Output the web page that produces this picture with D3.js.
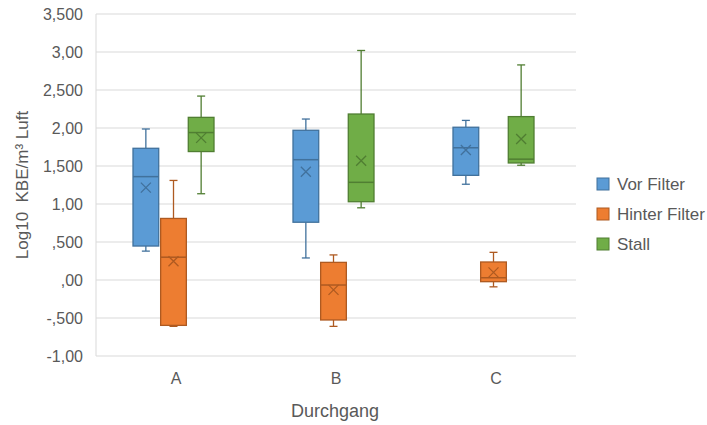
<!DOCTYPE html>
<html>
<head>
<meta charset="utf-8">
<script src="https://cdn.jsdelivr.net/npm/d3@7"></script>
<style>
  body { margin: 0; background: #fff; }
  text { font-family: "Liberation Sans", Arial, sans-serif; fill: #595959; }
</style>
</head>
<body>
<svg width="707" height="425"></svg>
<script>
// data (Log10 KBE/m3)
const categories = ['A', 'B', 'C'];
const seriesNames = ['Vor Filter', 'Hinter Filter', 'Stall'];
const fills = ['#5B9BD5', '#ED7D31', '#70AD47'];
const strokes = ['#41719C', '#AE5A21', '#507E32'];

// per series: [A, B, C]
const whiskerLow = [[0.38, 0.29, 1.26], [-0.61, -0.61, -0.09], [1.135, 0.95, 1.51]];
const q1 = [[0.447, 0.76, 1.377], [-0.597, -0.526, -0.022], [1.69, 1.03, 1.54]];
const median = [[1.36, 1.583, 1.74], [0.30, -0.066, 0.03], [1.94, 1.285, 1.59]];
const q3 = [[1.733, 1.97, 2.01], [0.81, 0.232, 0.237], [2.14, 2.184, 2.15]];
const whiskerHigh = [[1.987, 2.118, 2.10], [1.31, 0.33, 0.364], [2.42, 3.02, 2.83]];
const mean = [[1.215, 1.425, 1.71], [0.246, -0.13, 0.10], [1.87, 1.57, 1.855]];

const yTicks = [3.5, 3, 2.5, 2, 1.5, 1, 0.5, 0, -0.5, -1];
const yTickLabels = ['3,500', '3,00', '2,500', '2,00', '1,500', '1,00', ',500', ',00', '-,500', '-1,00'];

const svg = d3.select('svg');

const y = d3.scaleLinear().domain([-1, 3.5]).range([356, 14]);
const x0 = d3.scaleBand().domain(categories).range([96, 576]);
const x1 = d3.scaleBand().domain(seriesNames).range([-43, 38]).paddingInner(0.07);

// gridlines
svg.append('g').selectAll('line')
  .data(yTicks).enter().append('line')
    .attr('x1', 96).attr('x2', 576)
    .attr('y1', d => y(d)).attr('y2', d => y(d))
    .attr('stroke', '#d9d9d9').attr('stroke-width', 1);

svg.append('line')
  .attr('x1', 96).attr('x2', 96).attr('y1', y(3.5)).attr('y2', y(-1))
  .attr('stroke', '#d9d9d9');

// y tick labels
svg.append('g').selectAll('text')
  .data(yTicks).enter().append('text')
    .attr('x', 83).attr('y', d => y(d) + 6)
    .attr('text-anchor', 'end')
    .style('font-size', '16px')
    .text((d, i) => yTickLabels[i]);

// x labels
svg.append('g').selectAll('text')
  .data(categories).enter().append('text')
    .attr('x', d => x0(d) + x0.bandwidth() / 2)
    .attr('y', 384)
    .attr('text-anchor', 'middle')
    .style('font-size', '16px')
    .text(d => d);

// axis titles
svg.append('text')
  .attr('x', 335).attr('y', 417)
  .attr('text-anchor', 'middle')
  .style('font-size', '18px')
  .text('Durchgang');

svg.append('text')
  .attr('transform', 'translate(28,185) rotate(-90)')
  .attr('text-anchor', 'middle')
  .style('font-size', '17px')
  .style('white-space', 'pre')
  .text('Log10  KBE/m³ Luft');

// boxes
const boxes = [];
seriesNames.forEach((s, si) => {
  categories.forEach((c, ci) => {
    boxes.push({
      s: s, si: si, c: c,
      lo: whiskerLow[si][ci], q1: q1[si][ci], med: median[si][ci],
      q3: q3[si][ci], hi: whiskerHigh[si][ci], mean: mean[si][ci]
    });
  });
});

const bw = x1.bandwidth();
const g = svg.append('g').selectAll('g')
  .data(boxes).enter().append('g')
    .attr('transform', d => 'translate(' + (x0(d.c) + x0.bandwidth() / 2 + x1(d.s)) + ',0)');

// whiskers
g.append('line')
  .attr('x1', bw / 2).attr('x2', bw / 2)
  .attr('y1', d => y(d.hi)).attr('y2', d => y(d.q3))
  .attr('stroke', d => strokes[d.si]).attr('stroke-width', 1.3);
g.append('line')
  .attr('x1', bw / 2).attr('x2', bw / 2)
  .attr('y1', d => y(d.q1)).attr('y2', d => y(d.lo))
  .attr('stroke', d => strokes[d.si]).attr('stroke-width', 1.3);
g.append('line')
  .attr('x1', bw / 2 - 4).attr('x2', bw / 2 + 4)
  .attr('y1', d => y(d.hi)).attr('y2', d => y(d.hi))
  .attr('stroke', d => strokes[d.si]).attr('stroke-width', 1.3);
g.append('line')
  .attr('x1', bw / 2 - 4).attr('x2', bw / 2 + 4)
  .attr('y1', d => y(d.lo)).attr('y2', d => y(d.lo))
  .attr('stroke', d => strokes[d.si]).attr('stroke-width', 1.3);

g.append('rect')
  .attr('x', 0).attr('width', bw)
  .attr('y', d => y(d.q3))
  .attr('height', d => y(d.q1) - y(d.q3))
  .attr('fill', d => fills[d.si])
  .attr('stroke', d => strokes[d.si]).attr('stroke-width', 1.3);

g.append('line')
  .attr('x1', 0).attr('x2', bw)
  .attr('y1', d => y(d.med)).attr('y2', d => y(d.med))
  .attr('stroke', d => strokes[d.si]).attr('stroke-width', 1.5);

// mean marker
g.append('path')
  .attr('d', d => {
    const cx = bw / 2, cy = y(d.mean), r = 5;
    return 'M' + (cx - r) + ',' + (cy - r) + 'L' + (cx + r) + ',' + (cy + r) +
      'M' + (cx - r) + ',' + (cy + r) + 'L' + (cx + r) + ',' + (cy - r);
  })
  .attr('stroke', d => strokes[d.si]).attr('stroke-width', 1.3)
  .attr('fill', 'none');

// legend
const leg = svg.append('g').selectAll('g')
  .data(seriesNames).enter().append('g')
    .attr('transform', (d, i) => 'translate(597,' + (178 + i * 30) + ')');
leg.append('rect')
  .attr('width', 12).attr('height', 12)
  .attr('fill', (d, i) => fills[i])
  .attr('stroke', (d, i) => strokes[i]);
leg.append('text')
  .attr('x', 20).attr('y', 12)
  .style('font-size', '17px')
  .text(d => d);
</script>
</body>
</html>
